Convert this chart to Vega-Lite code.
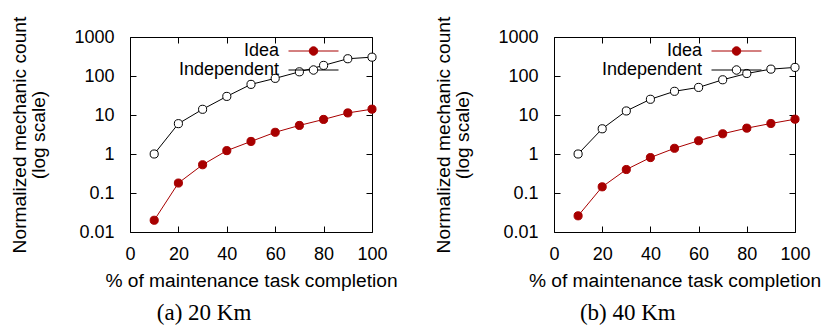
{
  "$schema": "https://vega.github.io/schema/vega-lite/v6.json",
  "padding": {"left": 10, "top": 15, "right": 0, "bottom": 0},
  "background": "white",
  "config": {
    "font": "Liberation Sans",
    "view": {"stroke": "black", "strokeWidth": 1},
    "axis": {
      "labelFont": "Liberation Sans", "titleFont": "Liberation Sans",
      "labelColor": "black", "titleColor": "black", "tickColor": "black",
      "domain": false, "grid": false, "labelFontSize": 18, "titleFontSize": 19.2,
      "titleFontWeight": "normal", "tickSize": -6, "tickWidth": 1, "labelFlush": false, "labelOverlap": false
    },
    "legend": {
      "labelFont": "Liberation Sans", "labelColor": "black"
    }
  },
  "datasets": {
    "d": [
      {"panel": "a", "series": "Idea", "x": 10, "y": 0.02},
      {"panel": "a", "series": "Idea", "x": 20, "y": 0.18},
      {"panel": "a", "series": "Idea", "x": 30, "y": 0.53},
      {"panel": "a", "series": "Idea", "x": 40, "y": 1.22},
      {"panel": "a", "series": "Idea", "x": 50, "y": 2.1},
      {"panel": "a", "series": "Idea", "x": 60, "y": 3.6},
      {"panel": "a", "series": "Idea", "x": 70, "y": 5.4},
      {"panel": "a", "series": "Idea", "x": 80, "y": 7.7},
      {"panel": "a", "series": "Idea", "x": 90, "y": 11.3},
      {"panel": "a", "series": "Idea", "x": 100, "y": 14.1},
      {"panel": "a", "series": "Independent", "x": 10, "y": 1},
      {"panel": "a", "series": "Independent", "x": 20, "y": 6.0},
      {"panel": "a", "series": "Independent", "x": 30, "y": 14},
      {"panel": "a", "series": "Independent", "x": 40, "y": 30},
      {"panel": "a", "series": "Independent", "x": 50, "y": 61},
      {"panel": "a", "series": "Independent", "x": 60, "y": 87},
      {"panel": "a", "series": "Independent", "x": 70, "y": 128},
      {"panel": "a", "series": "Independent", "x": 80, "y": 187},
      {"panel": "a", "series": "Independent", "x": 90, "y": 277},
      {"panel": "a", "series": "Independent", "x": 100, "y": 304},
      {"panel": "b", "series": "Idea", "x": 10, "y": 0.026},
      {"panel": "b", "series": "Idea", "x": 20, "y": 0.144},
      {"panel": "b", "series": "Idea", "x": 30, "y": 0.40},
      {"panel": "b", "series": "Idea", "x": 40, "y": 0.81},
      {"panel": "b", "series": "Idea", "x": 50, "y": 1.40},
      {"panel": "b", "series": "Idea", "x": 60, "y": 2.19},
      {"panel": "b", "series": "Idea", "x": 70, "y": 3.3},
      {"panel": "b", "series": "Idea", "x": 80, "y": 4.6},
      {"panel": "b", "series": "Idea", "x": 90, "y": 6.06},
      {"panel": "b", "series": "Idea", "x": 100, "y": 7.8},
      {"panel": "b", "series": "Independent", "x": 10, "y": 1},
      {"panel": "b", "series": "Independent", "x": 20, "y": 4.43},
      {"panel": "b", "series": "Independent", "x": 30, "y": 12.7},
      {"panel": "b", "series": "Independent", "x": 40, "y": 25.3},
      {"panel": "b", "series": "Independent", "x": 50, "y": 40.5},
      {"panel": "b", "series": "Independent", "x": 60, "y": 51},
      {"panel": "b", "series": "Independent", "x": 70, "y": 80},
      {"panel": "b", "series": "Independent", "x": 80, "y": 116},
      {"panel": "b", "series": "Independent", "x": 90, "y": 150},
      {"panel": "b", "series": "Independent", "x": 100, "y": 166}
    ]
  },
  "spacing": 36,
  "resolve": {
    "scale": {"stroke": "independent", "fill": "independent"},
    "legend": {"stroke": "independent", "fill": "independent"}
  },
  "hconcat": [
    {
      "width": 242, "height": 195,
      "title": {"text": "(a) 20 Km", "orient": "bottom", "font": "Liberation Serif", "fontSize": 23, "fontWeight": "normal", "color": "black", "frame": "bounds", "anchor": "middle", "offset": 12},
      "data": {"name": "d"},
      "transform": [{"filter": "datum.panel == 'a'"}],
      "resolve": {"axis": {"x": "independent", "y": "independent"}},
      "layer": [
        {
          "mark": {"type": "line", "strokeWidth": 1},
          "encoding": {
            "x": {"field": "x", "type": "quantitative", "scale": {"domain": [0, 100], "nice": false},
                  "axis": {"orient": "bottom", "values": [0, 20, 40, 60, 80, 100], "title": "% of maintenance task completion", "labelPadding": 19, "titlePadding": 8}},
            "y": {"field": "y", "type": "quantitative", "scale": {"type": "log", "domain": [0.01, 1000], "nice": false},
                  "axis": {"orient": "left", "values": [0.01, 0.1, 1, 10, 100, 1000], "format": "~g", "title": ["Normalized mechanic count", "(log scale)"], "labelPadding": 22, "titlePadding": 25, "titleLineHeight": 19}},
            "stroke": {"field": "series", "type": "nominal", "scale": {"domain": ["Idea", "Independent"], "range": ["#a80000", "black"]},
                       "legend": {"title": null, "orient": "none", "legendX": 174.5, "legendY": 5, "padding": 0, "symbolType": "M-5,0H-0.85M0.85,0H5M0.85,0A0.85,0.85,0,1,1,-0.85,0A0.85,0.85,0,1,1,0.85,0", "symbolSize": 100, "symbolStrokeWidth": 1, "symbolOpacity": 1, "labelFontSize": 18, "labelAlign": "right", "labelOffset": -43.5, "rowPadding": 1}}
          }
        },
        {
          "mark": {"type": "point", "shape": "circle", "filled": true, "size": 66, "strokeWidth": 1, "opacity": 1},
          "encoding": {
            "x": {"field": "x", "type": "quantitative", "axis": {"orient": "top", "values": [0, 20, 40, 60, 80, 100], "labels": false, "title": null}},
            "y": {"field": "y", "type": "quantitative", "axis": {"orient": "right", "values": [0.01, 0.1, 1, 10, 100, 1000], "labels": false, "title": null}},
            "stroke": {"field": "series", "type": "nominal",
                       "legend": {"title": null, "orient": "none", "legendX": 174.5, "legendY": 5, "padding": 0, "symbolType": "M-5,0H-0.85M0.85,0H5M0.85,0A0.85,0.85,0,1,1,-0.85,0A0.85,0.85,0,1,1,0.85,0", "symbolSize": 100, "symbolStrokeWidth": 1, "symbolOpacity": 1, "labelFontSize": 18, "labelAlign": "right", "labelOffset": -43.5, "rowPadding": 1}},
            "fill": {"field": "series", "type": "nominal", "scale": {"domain": ["Idea", "Independent"], "range": ["#a80000", "white"]},
                     "legend": {"title": null, "orient": "none", "legendX": 174.5, "legendY": 5, "padding": 0, "symbolType": "M-5,0H-0.85M0.85,0H5M0.85,0A0.85,0.85,0,1,1,-0.85,0A0.85,0.85,0,1,1,0.85,0", "symbolSize": 100, "symbolStrokeWidth": 1, "symbolOpacity": 1, "labelFontSize": 18, "labelAlign": "right", "labelOffset": -43.5, "rowPadding": 1}}
          }
        }
      ]
    },
    {
      "width": 241, "height": 195,
      "title": {"text": "(b) 40 Km", "orient": "bottom", "font": "Liberation Serif", "fontSize": 23, "fontWeight": "normal", "color": "black", "frame": "bounds", "anchor": "middle", "offset": 12},
      "data": {"name": "d"},
      "transform": [{"filter": "datum.panel == 'b'"}],
      "resolve": {"axis": {"x": "independent", "y": "independent"}},
      "layer": [
        {
          "mark": {"type": "line", "strokeWidth": 1},
          "encoding": {
            "x": {"field": "x", "type": "quantitative", "scale": {"domain": [0, 100], "nice": false},
                  "axis": {"orient": "bottom", "values": [0, 20, 40, 60, 80, 100], "title": "% of maintenance task completion", "labelPadding": 19, "titlePadding": 8}},
            "y": {"field": "y", "type": "quantitative", "scale": {"type": "log", "domain": [0.01, 1000], "nice": false},
                  "axis": {"orient": "left", "values": [0.01, 0.1, 1, 10, 100, 1000], "format": "~g", "title": ["Normalized mechanic count", "(log scale)"], "labelPadding": 22, "titlePadding": 25, "titleLineHeight": 19}},
            "stroke": {"field": "series", "type": "nominal", "scale": {"domain": ["Idea", "Independent"], "range": ["#a80000", "black"]},
                       "legend": {"title": null, "orient": "none", "legendX": 173.5, "legendY": 5, "padding": 0, "symbolType": "M-5,0H-0.85M0.85,0H5M0.85,0A0.85,0.85,0,1,1,-0.85,0A0.85,0.85,0,1,1,0.85,0", "symbolSize": 100, "symbolStrokeWidth": 1, "symbolOpacity": 1, "labelFontSize": 18, "labelAlign": "right", "labelOffset": -43.5, "rowPadding": 1}}
          }
        },
        {
          "mark": {"type": "point", "shape": "circle", "filled": true, "size": 66, "strokeWidth": 1, "opacity": 1},
          "encoding": {
            "x": {"field": "x", "type": "quantitative", "axis": {"orient": "top", "values": [0, 20, 40, 60, 80, 100], "labels": false, "title": null}},
            "y": {"field": "y", "type": "quantitative", "axis": {"orient": "right", "values": [0.01, 0.1, 1, 10, 100, 1000], "labels": false, "title": null}},
            "stroke": {"field": "series", "type": "nominal",
                       "legend": {"title": null, "orient": "none", "legendX": 173.5, "legendY": 5, "padding": 0, "symbolType": "M-5,0H-0.85M0.85,0H5M0.85,0A0.85,0.85,0,1,1,-0.85,0A0.85,0.85,0,1,1,0.85,0", "symbolSize": 100, "symbolStrokeWidth": 1, "symbolOpacity": 1, "labelFontSize": 18, "labelAlign": "right", "labelOffset": -43.5, "rowPadding": 1}},
            "fill": {"field": "series", "type": "nominal", "scale": {"domain": ["Idea", "Independent"], "range": ["#a80000", "white"]},
                     "legend": {"title": null, "orient": "none", "legendX": 173.5, "legendY": 5, "padding": 0, "symbolType": "M-5,0H-0.85M0.85,0H5M0.85,0A0.85,0.85,0,1,1,-0.85,0A0.85,0.85,0,1,1,0.85,0", "symbolSize": 100, "symbolStrokeWidth": 1, "symbolOpacity": 1, "labelFontSize": 18, "labelAlign": "right", "labelOffset": -43.5, "rowPadding": 1}}
          }
        }
      ]
    }
  ]
}
